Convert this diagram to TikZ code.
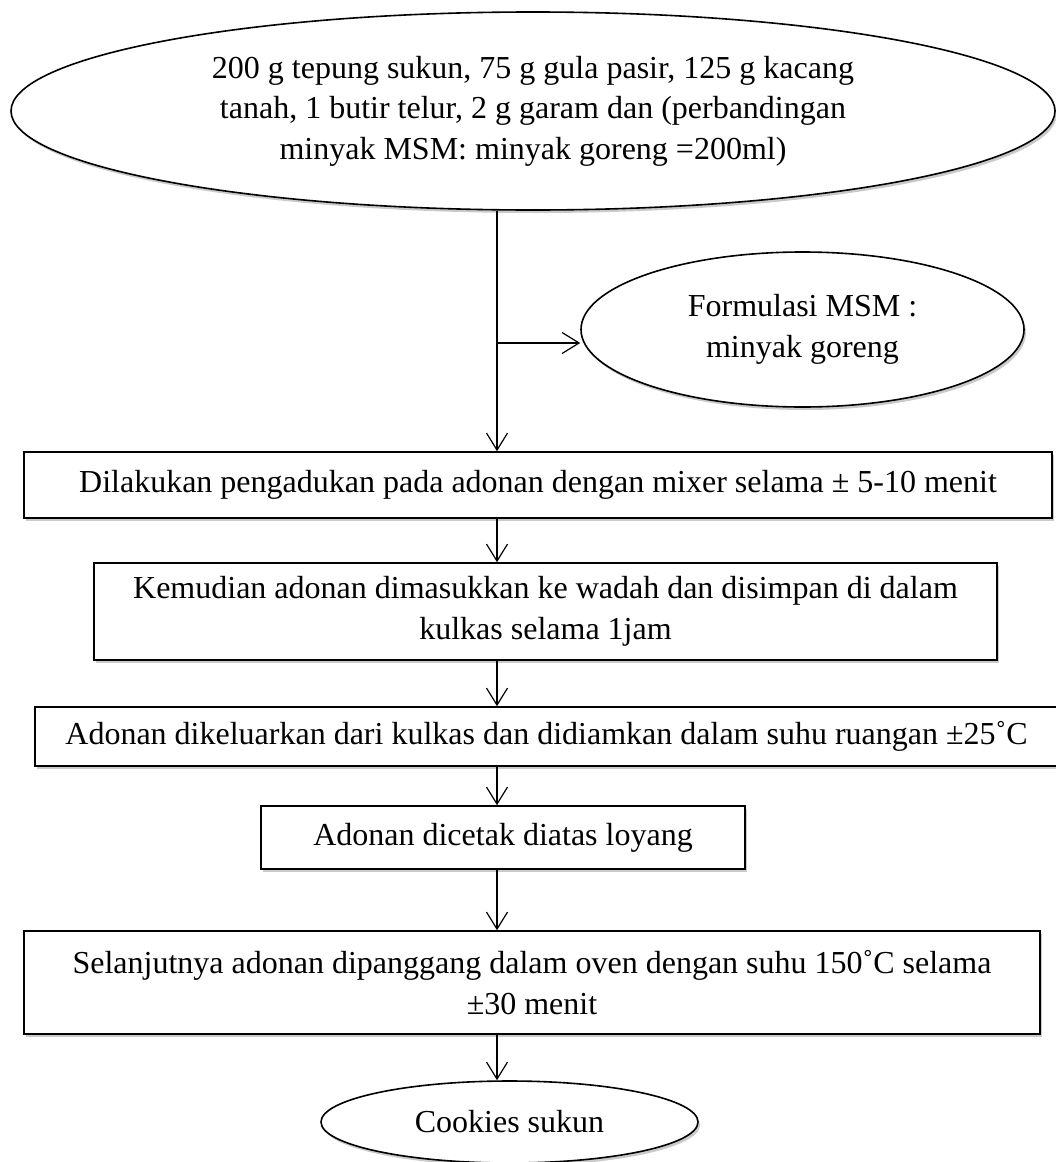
\documentclass[tikz,border=0pt]{standalone}
\usepackage{fontspec}
\setmainfont{Liberation Serif}
\usetikzlibrary{shapes.geometric,arrows.meta,shadows}
\begin{document}
\begin{tikzpicture}[x=1pt,y=-1pt,
  every node/.style={font=\fontsize{32}{40.5}\selectfont, align=center, inner sep=0pt},
  shad/.style={drop shadow={opacity=0.35, shadow xshift=2pt, shadow yshift=-3pt, fill=black!60}},
  ell/.style={ellipse, draw, line width=1.6pt, fill=white, shad},
  stepbox/.style={rectangle, draw, line width=1.6pt, fill=white, shad},
  conn/.style={line width=1.2pt, -{Straight Barb[length=17pt,width=21pt,line width=1.2pt]}}
]
\useasboundingbox (0,0) rectangle (1056,1162);
\clip (0,0) rectangle (1056,1162);
\coordinate (col) at (497,0);
\node[ell, minimum width=1044pt, minimum height=198pt] (top) at (533,111)
  {200 g tepung sukun, 75 g gula pasir, 125 g kacang\\tanah, 1 butir telur, 2 g garam dan (perbandingan\\minyak MSM: minyak goreng =200ml)};
\node[ell, minimum width=443pt, minimum height=155pt] (form) at (802.5,329.5)
  {Formulasi MSM :\\minyak goreng};
\node[stepbox, minimum width=1028pt, minimum height=66pt] (b1) at (538,485)
  {Dilakukan pengadukan pada adonan dengan mixer selama ± 5-10 menit};
\node[stepbox, minimum width=903pt, minimum height=97pt] (b2) at (545.5,611.5)
  {Kemudian adonan dimasukkan ke wadah dan disimpan di dalam\\kulkas selama 1jam};
\node[stepbox, minimum width=1023pt, minimum height=59pt] (b3) at (546.5,736.5)
  {Adonan dikeluarkan dari kulkas dan didiamkan dalam suhu ruangan ±25˚C};
\node[stepbox, minimum width=484pt, minimum height=63pt] (b4) at (503,837.5)
  {Adonan dicetak diatas loyang};
\node[stepbox, minimum width=1016pt, minimum height=103pt] (b5) at (532,982.5)
  {Selanjutnya adonan dipanggang dalam oven dengan suhu 150˚C selama\\±30 menit};
\node[ell, minimum width=377pt, minimum height=82pt] (end) at (509.5,1122)
  {Cookies sukun};
\coordinate (br) at (497,343);
\draw[line width=1.2pt] (top.south -| col) -- (br);
\draw[conn] (br) -- (b1.north -| col);
\draw[conn] (br) -- (form.west |- br);
\draw[conn] (b1.south -| col) -- (b2.north -| col);
\draw[conn] (b2.south -| col) -- (b3.north -| col);
\draw[conn] (b3.south -| col) -- (b4.north -| col);
\draw[conn] (b4.south -| col) -- (b5.north -| col);
\draw[conn] (b5.south -| col) -- (end.north -| col);
\end{tikzpicture}
\end{document}
